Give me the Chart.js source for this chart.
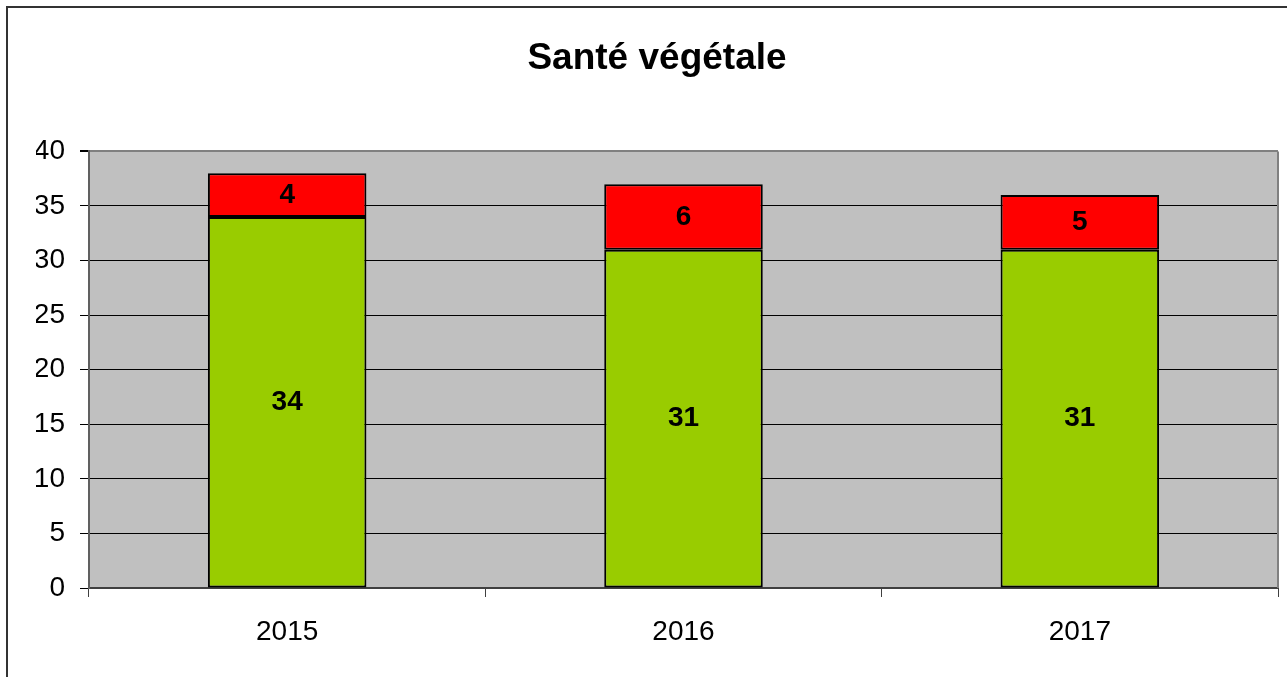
<!DOCTYPE html>
<html>
<head>
<meta charset="utf-8">
<script src="https://cdn.jsdelivr.net/npm/chart.js@4/dist/chart.umd.min.js"></script>
<style>
  body { margin: 0; background: #fff; overflow: hidden; }
  #wrap { position: relative; width: 1287px; height: 677px; }
  #frame { position: absolute; left: 6px; top: 6px; width: 1300px; height: 700px;
           border-left: 2px solid #333; border-top: 2px solid #333; pointer-events: none; }
</style>
</head>
<body>
<div id="wrap">
  <canvas id="chart1" width="1287" height="677"></canvas>
  <div id="frame"></div>
</div>
<script>
const years = ["2015", "2016", "2017"];
const greenValues = [34, 31, 31];
const redValues = [4, 6, 5];
const yTicks = [0, 5, 10, 15, 20, 25, 30, 35, 40];

// gray plot area with its right border
const plotBg = {
  id: "plotBg",
  beforeDraw(chart) {
    const {ctx, chartArea: a} = chart;
    ctx.save();
    ctx.fillStyle = "#C0C0C0";
    ctx.fillRect(a.left, a.top, a.right - a.left, a.bottom - a.top);
    ctx.restore();
  },
  afterDraw(chart) {
    const {ctx, chartArea: a} = chart;
    ctx.save();
    ctx.strokeStyle = "#808080";
    ctx.lineWidth = 2;
    ctx.beginPath();
    ctx.moveTo(a.right, a.top);
    ctx.lineTo(a.right, a.bottom);
    ctx.stroke();
    ctx.restore();
  }
};

// values written in the middle of each segment
const barLabels = {
  id: "barLabels",
  afterDatasetsDraw(chart) {
    const ctx = chart.ctx;
    ctx.save();
    ctx.font = "bold 28px 'Liberation Sans', Arial, sans-serif";
    ctx.fillStyle = "#000";
    ctx.textAlign = "center";
    ctx.textBaseline = "middle";
    chart.data.datasets.forEach(function (ds, i) {
      chart.getDatasetMeta(i).data.forEach(function (bar, j) {
        const p = bar.getCenterPoint();
        ctx.fillText(ds.data[j], p.x, p.y);
      });
    });
    ctx.restore();
  }
};

const ctx = document.getElementById("chart1").getContext("2d");
const myChart = new Chart(ctx, {
  type: "bar",
  data: {
    labels: years,
    datasets: [
      {
        label: "vert",
        data: greenValues,
        backgroundColor: "#99CC00",
        borderColor: "#000",
        borderWidth: 2,
        borderSkipped: false,
        barPercentage: 0.4,
        categoryPercentage: 1,
      },
      {
        label: "rouge",
        data: redValues,
        backgroundColor: "#FF0000",
        borderColor: "#000",
        borderWidth: 2,
        borderSkipped: false,
        barPercentage: 0.4,
        categoryPercentage: 1,
      },
    ],
  },
  options: {
    responsive: false,
    animation: false,
    layout: { padding: { left: 36, right: 9, top: 0, bottom: 0 } },
    plugins: {
      legend: { display: false },
      tooltip: { enabled: false },
      title: {
        display: true,
        text: "Santé végétale",
        color: "#000",
        font: { family: "'Liberation Sans', Arial, sans-serif", size: 37, weight: "bold" },
        padding: { top: 37, bottom: 70 },
      },
    },
    scales: {
      x: {
        stacked: true,
        grid: {
          offset: true,
          drawOnChartArea: false,
          drawTicks: true,
          tickLength: 9,
          tickColor: "#404040",
        },
        border: { color: "#404040", width: 2 },
        ticks: {
          color: "#000",
          padding: 18,
          font: { family: "'Liberation Sans', Arial, sans-serif", size: 28 },
        },
        afterFit(scale) { scale.height = 89; },
      },
      y: {
        stacked: true,
        min: 0,
        max: 40,
        afterBuildTicks(scale) { scale.ticks = yTicks.map(v => ({value: v})); },
        grid: {
          color: (c) => (c.tick && c.tick.value === 40 ? "#808080" : "#000"),
          lineWidth: (c) => (c.tick && c.tick.value === 40 ? 2 : 1),
          tickLength: 9,
          tickColor: "#000",
        },
        border: { color: "#606060", width: 2 },
        ticks: {
          color: "#000",
          padding: 15,
          font: { family: "'Liberation Sans', Arial, sans-serif", size: 28 },
        },
        afterFit(scale) { scale.width = 53; },
      },
    },
  },
  plugins: [plotBg, barLabels],
});
</script>
</body>
</html>
